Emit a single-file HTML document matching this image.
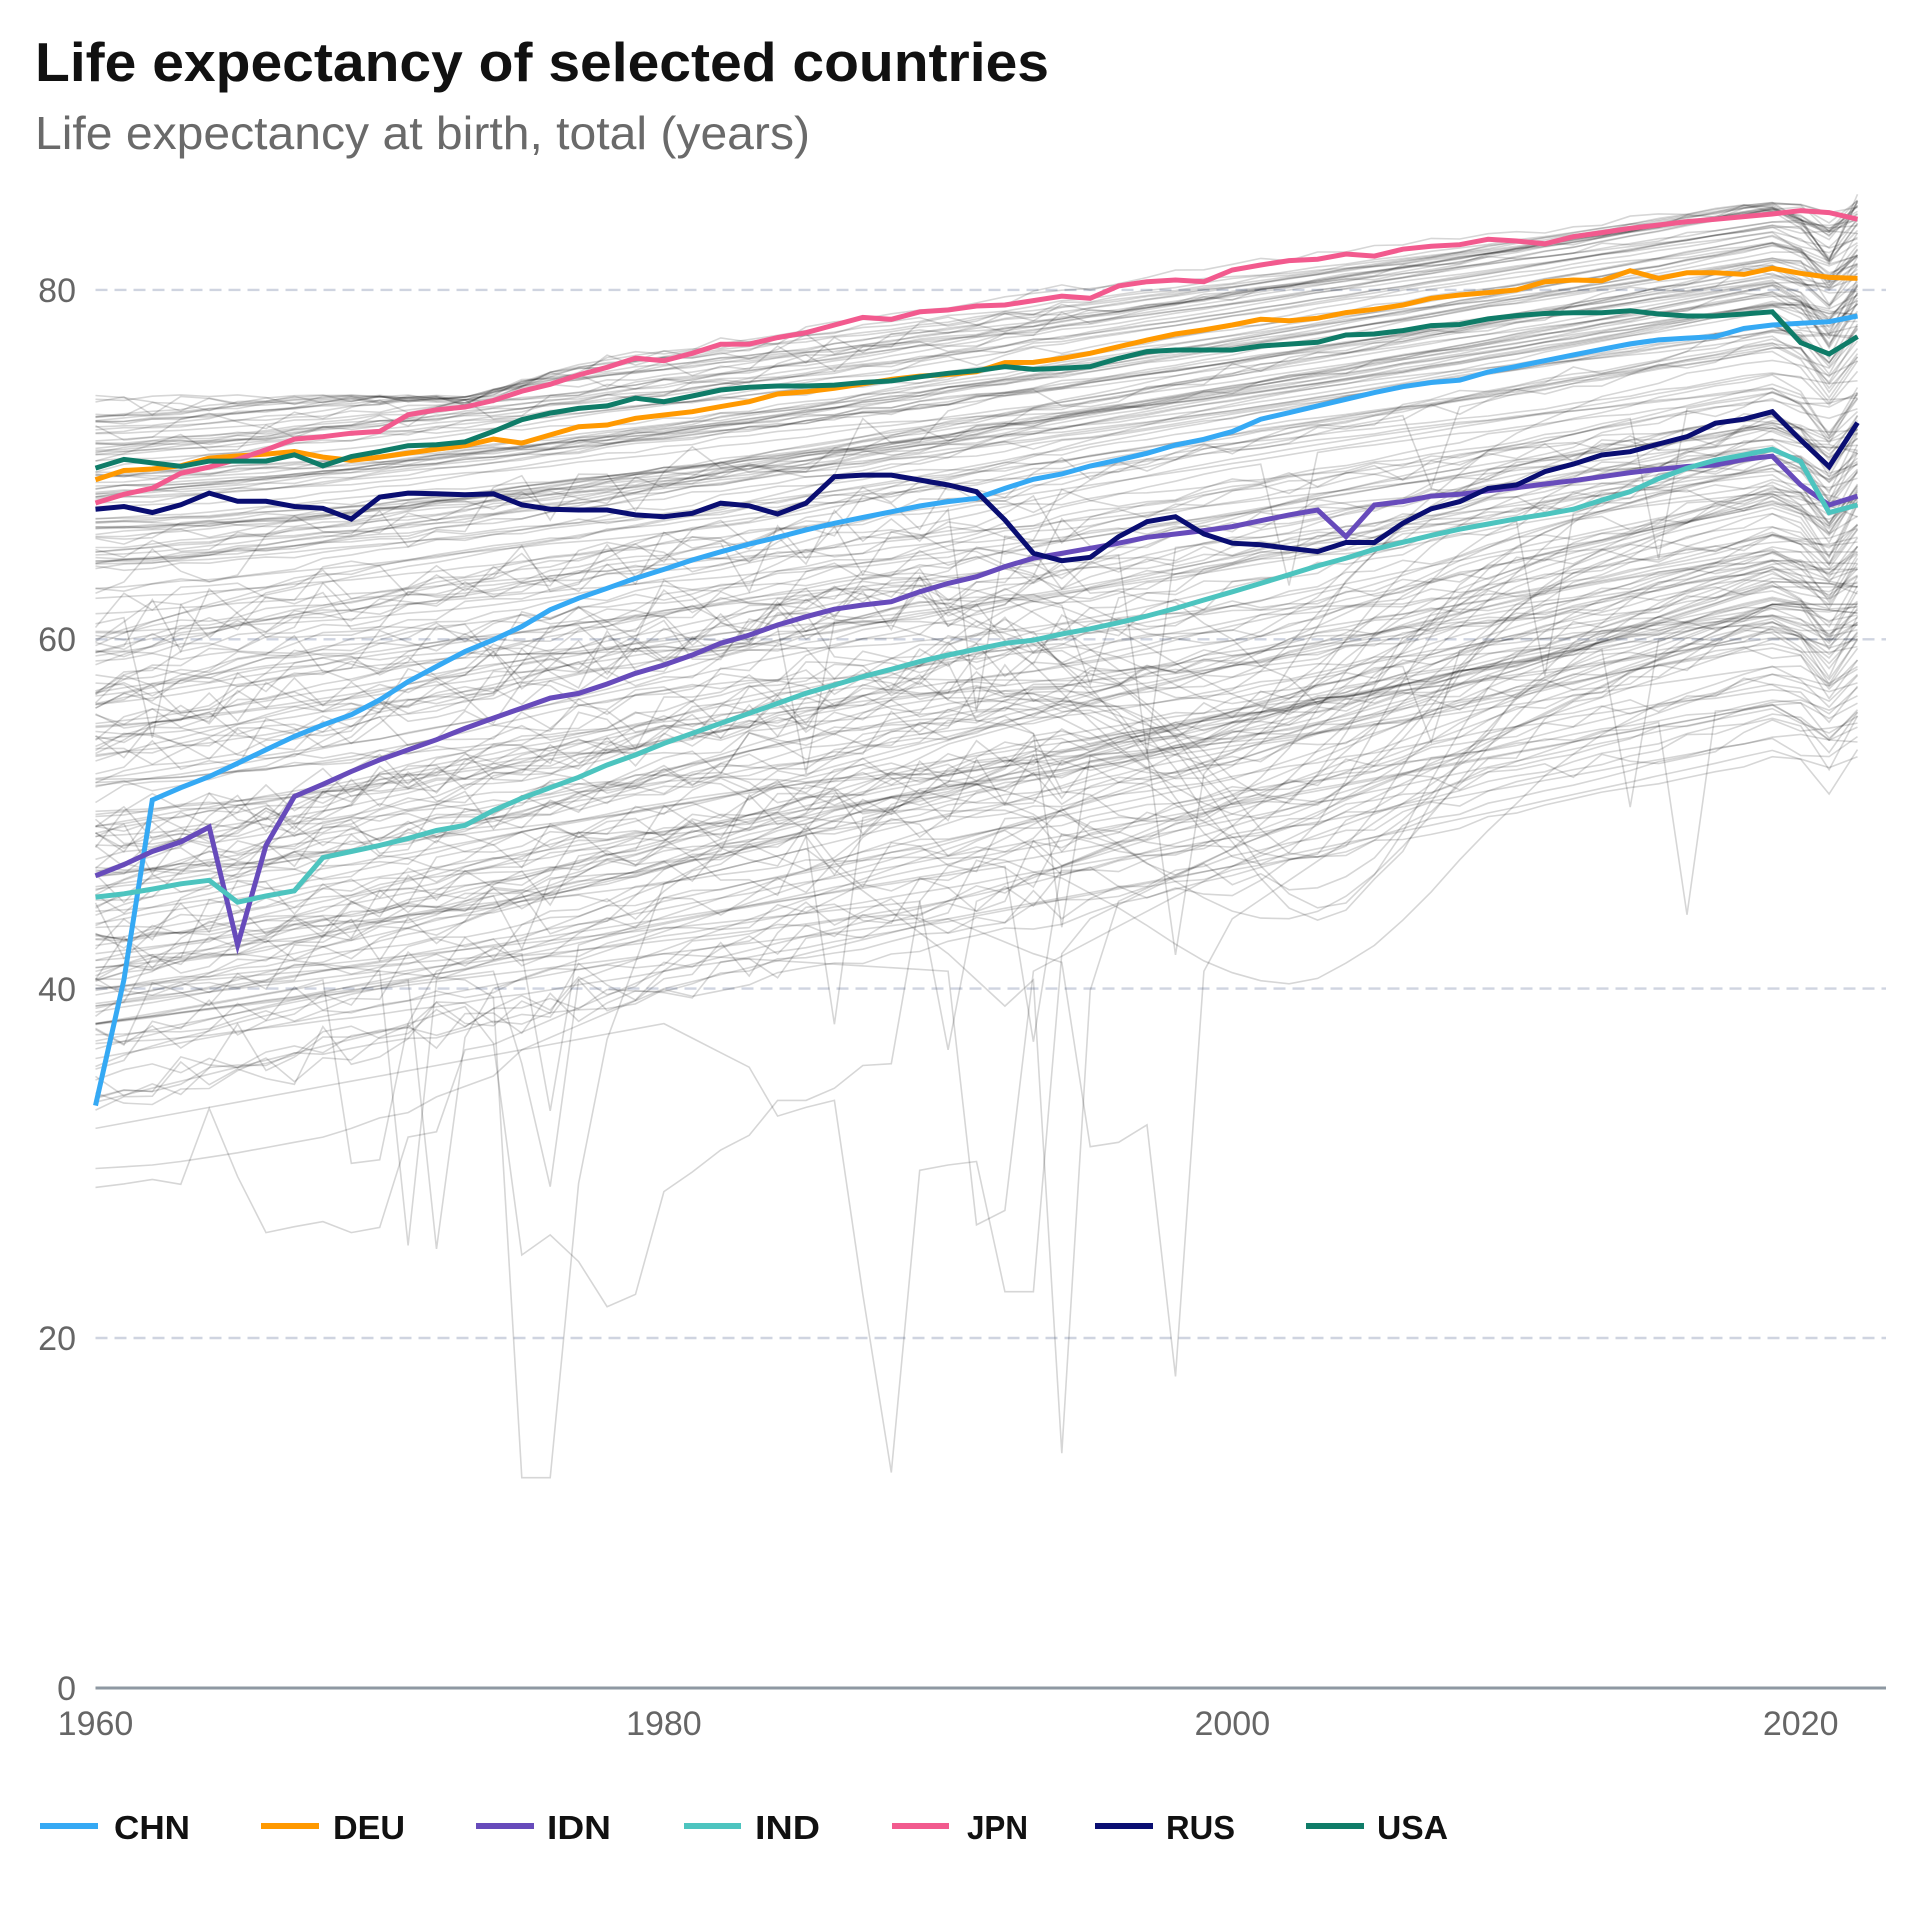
<!DOCTYPE html>
<html>
<head>
<meta charset="utf-8">
<style>
html,body{margin:0;padding:0;background:#fff;}
svg{display:block;}
text{font-family:"Liberation Sans",Arial,sans-serif;}
</style>
</head>
<body>
<svg id="c" xmlns="http://www.w3.org/2000/svg" width="1920" height="1920" viewBox="0 0 1920 1920">
<rect width="1920" height="1920" fill="#fff"/>
<text x="35" y="81" font-size="55" font-weight="700" fill="#111" textLength="1014" lengthAdjust="spacingAndGlyphs">Life expectancy of selected countries</text>
<text x="35" y="149" font-size="46" fill="#6a6a6a" textLength="775" lengthAdjust="spacingAndGlyphs">Life expectancy at birth, total (years)</text>

<g stroke="#cfd4e0" stroke-width="2.4" stroke-dasharray="12 7">
  <line x1="95.5" x2="1886" y1="289.9" y2="289.9"/>
  <line x1="95.5" x2="1886" y1="639.3" y2="639.3"/>
  <line x1="95.5" x2="1886" y1="988.6" y2="988.6"/>
  <line x1="95.5" x2="1886" y1="1338" y2="1338"/>
</g>

<g id="bg" fill="none" stroke="#000" stroke-opacity="0.16" stroke-width="1.6"></g>
<g id="hl" fill="none" stroke-width="5"></g>

<line x1="95.5" x2="1886" y1="1688" y2="1688" stroke="#8e98a2" stroke-width="3"/>

<g font-size="34" fill="#666" text-anchor="end">
  <text x="76" y="302">80</text>
  <text x="76" y="651">60</text>
  <text x="76" y="1001">40</text>
  <text x="76" y="1350">20</text>
  <text x="76" y="1700">0</text>
</g>
<g font-size="34" fill="#666" text-anchor="middle">
  <text x="95.5" y="1735">1960</text>
  <text x="663.9" y="1735">1980</text>
  <text x="1232.3" y="1735">2000</text>
  <text x="1800.7" y="1735">2020</text>
</g>

<g stroke-width="6">
  <line x1="40" x2="98" y1="1826" y2="1826" stroke="#35a9f4"/>
  <line x1="261" x2="319" y1="1826" y2="1826" stroke="#ff9900"/>
  <line x1="476" x2="534" y1="1826" y2="1826" stroke="#674bbb"/>
  <line x1="684" x2="741" y1="1826" y2="1826" stroke="#4dc4bf"/>
  <line x1="892" x2="949" y1="1826" y2="1826" stroke="#f25a8e"/>
  <line x1="1095" x2="1153" y1="1826" y2="1826" stroke="#0a0e72"/>
  <line x1="1306" x2="1364" y1="1826" y2="1826" stroke="#0f7c68"/>
</g>
<g font-size="33" font-weight="700" fill="#111">
  <text x="114" y="1839" textLength="76" lengthAdjust="spacingAndGlyphs">CHN</text>
  <text x="333" y="1839" textLength="72" lengthAdjust="spacingAndGlyphs">DEU</text>
  <text x="547" y="1839" textLength="64" lengthAdjust="spacingAndGlyphs">IDN</text>
  <text x="755" y="1839" textLength="65" lengthAdjust="spacingAndGlyphs">IND</text>
  <text x="967" y="1839" textLength="61" lengthAdjust="spacingAndGlyphs">JPN</text>
  <text x="1166" y="1839" textLength="69" lengthAdjust="spacingAndGlyphs">RUS</text>
  <text x="1377" y="1839" textLength="71" lengthAdjust="spacingAndGlyphs">USA</text>
</g>
</svg>
<script>
(function(){
var NS="http://www.w3.org/2000/svg";
function X(y){return 95.5+28.42*(y-1960);}
function Y(v){return 1687.3-17.467*v;}
var seed=987654321;
function R(){seed|=0;seed=seed+0x6D2B79F5|0;var t=Math.imul(seed^seed>>>15,1|seed);t=t+Math.imul(t^t>>>7,61|t)^t;return((t^t>>>14)>>>0)/4294967296;}
function pathFromVals(vals){var d="";for(var i=0;i<vals.length;i++){if(vals[i]==null)continue;d+=(d?"L":"M")+X(1960+i).toFixed(1)+","+Y(vals[i]).toFixed(1);}return d;}
var bg=document.getElementById('bg'), hl=document.getElementById('hl');
function addPath(g,d,col){var p=document.createElementNS(NS,'path');p.setAttribute('d',d);if(col)p.setAttribute('stroke',col);g.appendChild(p);}
function interp(keys){var out=[];for(var y=1960;y<=2022;y++){var v;if(y<=keys[0][0])v=keys[0][1];else if(y>=keys[keys.length-1][0])v=keys[keys.length-1][1];else{var k=0;while(keys[k+1][0]<y)k++;var a=keys[k],b=keys[k+1];v=a[1]+(b[1]-a[1])*(y-a[0])/(b[0]-a[0]);}out.push(v);}return out;}

var H=[
["#35a9f4",[33.3,40.5,50.8,51.5,52.14,52.9,53.67,54.44,55.1,55.68,56.53,57.58,58.44,59.3,59.97,60.73,61.69,62.35,62.92,63.49,64.0,64.54,65.01,65.45,65.84,66.26,66.64,66.98,67.3,67.63,67.88,68.07,68.64,69.16,69.46,69.92,70.27,70.65,71.12,71.45,71.89,72.6,72.97,73.36,73.74,74.12,74.46,74.7,74.83,75.3,75.62,75.95,76.28,76.6,76.91,77.14,77.24,77.33,77.8,77.99,78.09,78.18,78.51]],
["#ff9900",[69.13,69.66,69.75,69.93,70.37,70.5,70.6,70.75,70.43,70.24,70.43,70.66,70.89,71.08,71.46,71.23,71.7,72.17,72.27,72.65,72.84,73.03,73.32,73.6,74.04,74.17,74.37,74.62,74.88,75.07,75.16,75.32,75.84,75.85,76.08,76.37,76.75,77.13,77.48,77.71,77.99,78.32,78.24,78.38,78.7,78.89,79.14,79.52,79.71,79.85,80.0,80.47,80.57,80.53,81.1,80.66,80.98,80.98,80.89,81.24,80.95,80.72,80.66]],
["#674bbb",[46.46,47.1,47.85,48.4,49.25,42.5,48.2,51.0,51.7,52.43,53.1,53.67,54.25,54.9,55.49,56.06,56.63,56.9,57.44,58.05,58.53,59.1,59.77,60.24,60.82,61.29,61.72,61.96,62.15,62.72,63.2,63.58,64.16,64.64,64.92,65.21,65.5,65.84,66.03,66.22,66.45,66.79,67.12,67.4,65.87,67.69,67.88,68.2,68.3,68.5,68.68,68.89,69.08,69.31,69.54,69.73,69.89,69.98,70.3,70.49,68.83,67.69,68.2]],
["#4dc4bf",[45.24,45.43,45.7,46.0,46.2,44.95,45.3,45.6,47.5,47.85,48.2,48.6,49.05,49.35,50.2,50.9,51.5,52.1,52.8,53.38,54.04,54.62,55.19,55.76,56.33,56.91,57.38,57.86,58.28,58.72,59.1,59.43,59.77,59.95,60.3,60.6,60.95,61.33,61.77,62.25,62.72,63.2,63.7,64.2,64.65,65.15,65.55,65.95,66.3,66.6,66.9,67.15,67.45,67.97,68.45,69.2,69.8,70.25,70.55,70.88,70.17,67.25,67.69]],
["#f25a8e",[67.8,68.3,68.65,69.5,69.86,70.3,70.85,71.46,71.6,71.8,71.9,72.85,73.14,73.3,73.67,74.2,74.6,75.13,75.57,76.09,75.95,76.37,76.89,76.9,77.27,77.55,77.99,78.43,78.32,78.75,78.85,79.08,79.14,79.39,79.65,79.52,80.23,80.47,80.57,80.47,81.14,81.43,81.68,81.76,82.06,81.94,82.33,82.5,82.59,82.9,82.8,82.64,83.05,83.28,83.53,83.72,83.91,84.05,84.2,84.35,84.54,84.43,84.05]],
["#0a0e72",[67.45,67.6,67.26,67.7,68.37,67.9,67.9,67.6,67.5,66.88,68.14,68.37,68.33,68.27,68.33,67.7,67.45,67.4,67.4,67.12,67.02,67.21,67.79,67.64,67.17,67.79,69.31,69.4,69.4,69.12,68.83,68.45,66.83,64.92,64.5,64.69,65.87,66.73,67.02,66.03,65.5,65.41,65.21,65.02,65.54,65.54,66.64,67.47,67.88,68.64,68.83,69.6,70.03,70.55,70.74,71.18,71.6,72.37,72.6,73.03,71.41,69.88,72.4]],
["#0f7c68",[69.8,70.3,70.1,69.9,70.2,70.2,70.2,70.56,69.93,70.46,70.75,71.08,71.14,71.3,71.9,72.57,72.95,73.22,73.36,73.8,73.6,73.93,74.27,74.43,74.5,74.5,74.55,74.7,74.79,75.03,75.23,75.38,75.61,75.45,75.52,75.61,76.08,76.47,76.56,76.56,76.56,76.79,76.9,77.0,77.42,77.48,77.67,77.96,78.02,78.34,78.53,78.65,78.69,78.69,78.81,78.62,78.51,78.51,78.62,78.75,76.98,76.33,77.33]]
];
var JPN=H[4][1];

/* generic background series */
for(var i=0;i<215;i++){
  var u=R(),s;
  if(u<0.27)s=66+7.7*R();else if(u<0.45)s=58+8*R();else if(u<0.69)s=48+10*R();else if(u<0.92)s=40+8*R();else s=33+7*R();
  var top=s>64;
  var e=53+(s-30)*(top?0.74:0.72)+(R()-0.5)*(top?4:9);
  if(e>85.2)e=85.2-R(); if(e<53)e=53+R()*1.5;
  if(e<s+4)e=s+4+R()*3;
  var g=top?(1.1+0.35*R()):(0.75+0.6*R());
  var wa=R()<0.5?R()*(top?0.8:2.2):0, wk=1+2*R(), wp=R()*6.283;
  var rough=R(), jit;
  if(top) jit=rough<0.15?(0.3+0.5*R()):(0.05+0.15*R());
  else jit=rough<0.4?(0.5+1.5*R()):(rough<0.75?0.15+0.25*R():0.04);
  var aids=(s>38&&s<57&&R()<0.2), D=aids?(6+10*R()):0, ac=1998+6*R(), aw=4+4*R();
  var sp=(!top&&R()<0.12)?[1962+Math.floor(R()*55),3+9*R()]:null;
  var c20=-R()*1.2, c21=c20-R()*2.8, c22=-R()*1.2, sl=0.05+0.2*R();
  var vals=[], v19=0;
  for(var y=1960;y<=2022;y++){
    var v;
    if(y<=2019){
      var t=(y-1960)/59;
      v=s+(e-s)*Math.pow(t,g)+wa*Math.sin(Math.PI*t)*Math.sin(Math.PI*t*wk+wp);
      v+=(R()-0.5)*2*jit*(y<1995?1:0.35);
      if(aids)v-=D*Math.exp(-Math.pow((y-ac)/aw,2));
      if(sp&&y===sp[0])v-=sp[1];
      var cap=Math.max(74.0,JPN[y-1960]+0.7);
      if(v>cap)v=cap-R()*0.6;
      if(y===2019)v19=v;
    } else {
      v=v19+sl*(y-2019)+(y===2020?c20:(y===2021?c21:c22));
      if(v>85.6)v=85.6;
    }
    vals.push(v);
  }
  addPath(bg,pathFromVals(vals));
}

/* crafted irregular series */
var crafted=[
 [[1960,41.2],[1965,42.0],[1970,41.0],[1973,40.5],[1974,39.5],[1975,12],[1976,12],[1977,28.85],[1978,37.1],[1979,41.5],[1980,46],[1985,50],[1990,54],[2000,58.5],[2010,66],[2019,70],[2020,70.2],[2021,69.5],[2022,70]],
 [[1960,33.5],[1965,35.5],[1970,37.5],[1973,38.97],[1974,36.87],[1975,24.75],[1976,25.9],[1977,24.37],[1978,21.79],[1979,22.5],[1980,28.38],[1981,29.5],[1982,30.76],[1983,31.6],[1984,33.6],[1985,33.6],[1986,34.3],[1987,35.6],[1988,35.7],[1989,45],[1990,47],[1995,51],[2000,55],[2010,63],[2019,68.5],[2021,67.5],[2022,68]],
 [[1960,28.62],[1961,28.82],[1962,29.08],[1963,28.8],[1964,33.15],[1965,29.24],[1966,26.03],[1967,26.37],[1968,26.66],[1969,26.03],[1970,26.33],[1971,31.5],[1972,31.8],[1973,36.5],[1974,36.8],[1975,37.5],[1980,41],[1990,45],[2000,50],[2010,56],[2019,61],[2021,59.5],[2022,60]],
 [[1960,29.7],[1962,29.9],[1963,30.1],[1965,30.6],[1966,30.9],[1967,31.2],[1968,31.5],[1969,32.0],[1970,32.6],[1971,32.9],[1972,33.8],[1973,34.4],[1974,35.0],[1975,36.5],[1980,40],[1990,44],[2000,47],[2010,53],[2019,58],[2021,57],[2022,57.5]],
 [[1960,38],[1967,40],[1968,40.5],[1969,30.0],[1970,30.2],[1971,38],[1972,41],[1980,46],[1990,50],[2000,53],[2019,63],[2022,63]],
 [[1960,39],[1970,41],[1971,25.3],[1972,40.5],[1980,45],[2000,52],[2019,62],[2022,62]],
 [[1960,37],[1971,40.5],[1972,25.1],[1973,37.2],[1974,40],[1985,46],[2000,53],[2019,63.5],[2022,63]],
 [[1960,38],[1974,41],[1975,35.7],[1976,28.66],[1977,40.5],[1990,48],[2019,64],[2022,64]],
 [[1960,40],[1975,42],[1976,33],[1977,42.5],[2019,65],[2022,65]],
 [[1960,32],[1970,35],[1980,38],[1983,35.5],[1984,32.7],[1985,33.2],[1986,33.6],[1987,22.5],[1988,12.3],[1989,29.6],[1990,29.9],[1991,30.1],[1992,22.65],[1993,22.65],[1994,42],[1995,44],[2000,48],[2010,55],[2019,60],[2022,60]],
 [[1960,36],[1980,42],[1990,41],[1991,26.47],[1992,27.3],[1993,41],[2000,47],[2019,62],[2022,61.5]],
 [[1960,42],[1980,46],[1985,48],[1990,42],[1992,39],[1993,40.5],[1994,13.4],[1995,39.9],[1996,45],[2000,48],[2010,62],[2019,69],[2022,67]],
 [[1960,38],[1980,42],[1990,44],[1993,42],[1994,41.5],[1995,30.95],[1996,31.2],[1997,32.2],[1998,17.8],[1999,41],[2000,44],[2010,55],[2019,62],[2022,62]],
 [[1960,40],[1989,45],[1990,36.5],[1991,45],[2019,64],[2022,63]],
 [[1960,39],[1992,47],[1993,36.96],[1994,47],[2019,62],[2022,61.5]]
];
for(var c=0;c<crafted.length;c++){addPath(bg,pathFromVals(interp(crafted[c])));}

for(var h=0;h<H.length;h++){addPath(hl,pathFromVals(H[h][1]),H[h][0]);}
})();
</script>
</body>
</html>
